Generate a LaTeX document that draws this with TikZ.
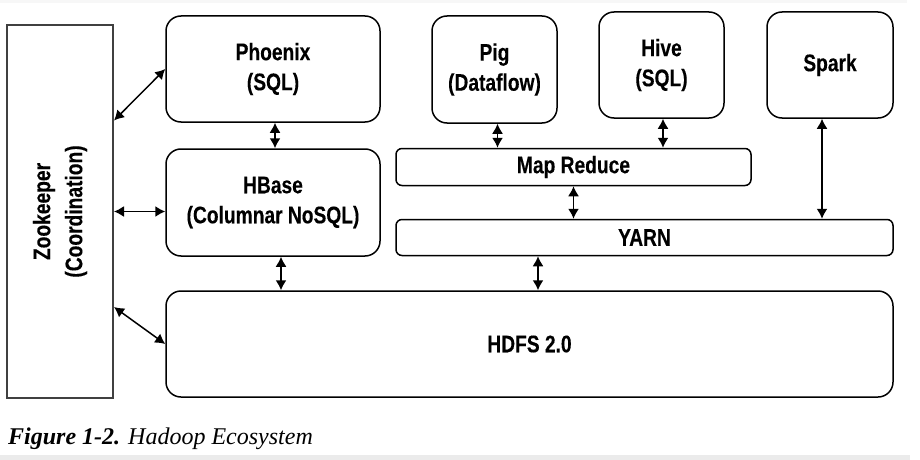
\documentclass[tikz,border=0pt]{standalone}
\usepackage{fontspec}
\setmainfont{Liberation Sans}[FakeStretch=0.8, BoldFeatures={FakeBold=0.2}]
\newfontfamily\capfont{Liberation Serif}
\usetikzlibrary{arrows.meta}
\begin{document}
\begin{tikzpicture}[x=1pt,y=-1pt,
  box/.style={draw=black, line width=1.5pt, rounded corners=15pt, fill=white,
    inner sep=0pt, align=center, font=\fontsize{24}{30}\selectfont\bfseries},
  bar/.style={box, rounded corners=6pt},
  zkbox/.style={draw=black!75, line width=2pt, fill=white, inner sep=0pt},
  arr/.style={{Latex[length=10pt,width=11pt]}-{Latex[length=10pt,width=11pt]}, line width=1.5pt}]
\useasboundingbox (0,0) rectangle (920,460);
\fill[black!3] (0,0) rectangle (907,3);
\fill[black!8] (0,455) rectangle (910,460);
% boxes
\node[zkbox, minimum width=106pt, minimum height=373pt] (zk) at (60,211.5) {};
\node[rotate=90, align=center, font=\fontsize{24}{32}\selectfont\bfseries] (zkt) at (zk.center) {Zookeeper\\(Coordination)};
\node[box, minimum width=214pt, minimum height=106pt] (phoenix) at (273,69) {Phoenix\\(SQL)};
\node[box, minimum width=214pt, minimum height=107pt] (hbase) at (273,202.5) {HBase\\(Columnar NoSQL)};
\node[box, minimum width=125pt, minimum height=107pt] (pig) at (494.5,69.5) {Pig\\(Dataflow)};
\node[box, minimum width=125pt, minimum height=106pt] (hive) at (661.5,65) {Hive\\(SQL)};
\node[box, minimum width=126pt, minimum height=106pt] (spark) at (830,65) {Spark};
\node[bar, minimum width=355pt, minimum height=37pt] (mr) at (573.5,167) {Map Reduce};
\node[bar, minimum width=497pt, minimum height=36pt] (yarn) at (644.5,237.5) {YARN};
\node[box, minimum width=727pt, minimum height=106pt] (hdfs) at (529.5,344) {HDFS 2.0};
% connectors
\draw[arr] ([xshift=2pt]phoenix.south) -- ([xshift=2pt]phoenix.south |- hbase.north);
\draw[arr] ([xshift=8pt]hbase.south) -- ([xshift=8pt]hbase.south |- hdfs.north);
\draw[arr] ([xshift=3pt]pig.south) -- ([xshift=3pt]pig.south |- mr.north);
\draw[arr] ([xshift=1.5pt]hive.south) -- ([xshift=1.5pt]hive.south |- mr.north);
\draw[arr] (mr.south) -- (mr.south |- yarn.north);
\draw[arr] ([xshift=-8pt]spark.south) -- ([xshift=-8pt]spark.south |- yarn.north);
\draw[arr] ([xshift=-106.5pt]yarn.south) -- ([xshift=-106.5pt]yarn.south |- hdfs.north);
\draw[arr] ([yshift=91pt]zk.east) -- (phoenix.west);
\draw[arr] (zk.east) -- (zk.east -| hbase.west);
\draw[arr] ([yshift=-95.5pt]zk.east) -- (hdfs.west);
% caption
\node[anchor=base west, inner sep=0pt, font=\capfont\fontsize{24}{26}\selectfont] (cap) at (8,444)
  {\textbf{\textit{Figure 1-2.}}\hspace{8pt}\textit{Hadoop Ecosystem}};
\end{tikzpicture}
\end{document}
